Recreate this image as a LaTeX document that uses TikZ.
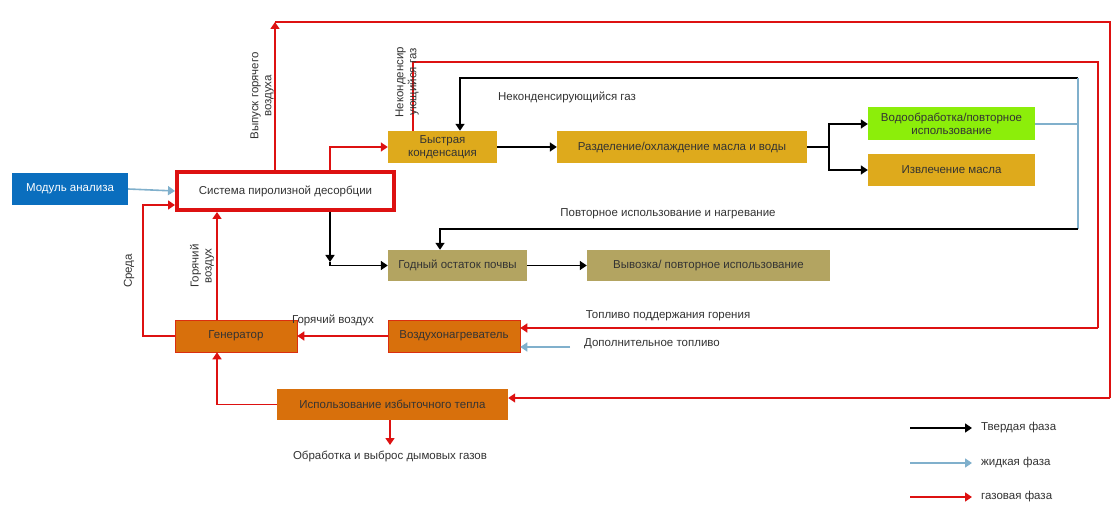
\documentclass[tikz,border=0pt]{standalone}
\usepackage{fontspec}
\setmainfont{Liberation Sans}
\usetikzlibrary{arrows.meta}
\definecolor{rd}{HTML}{DD1111}
\definecolor{lb}{HTML}{80B0CC}
\definecolor{gold}{HTML}{DEAA1C}
\definecolor{khaki}{HTML}{B3A461}
\definecolor{org}{HTML}{D8700C}
\definecolor{lime}{HTML}{8CEE0A}
\definecolor{bl}{HTML}{0A6EBE}
\definecolor{tx}{HTML}{333333}
\begin{document}
\begin{tikzpicture}[x=1pt,y=-1pt,
  every node/.style={font=\fontsize{11.5}{13}\selectfont,text=tx},
  box/.style={draw=none,minimum height=32pt,inner sep=1pt,align=center},
  r/.style={draw=rd,line width=1.6pt,-{Triangle[length=7pt,width=9pt]}},
  rn/.style={draw=rd,line width=1.6pt},
  k/.style={draw=black,line width=1.6pt,-{Triangle[length=7pt,width=9pt]}},
  kn/.style={draw=black,line width=1.6pt},
  b/.style={draw=lb,line width=1.6pt,-{Triangle[length=7pt,width=9pt]}},
  bn/.style={draw=lb,line width=1.6pt},
  lbl/.style={inner sep=1pt},
  rot/.style={inner sep=1pt,rotate=90,align=center}]
\useasboundingbox (0,0) rectangle (1113,510);
\fill[white] (0,0) rectangle (1113,510);
% boxes
\node[box,fill=bl,minimum width=116pt,text=white] (mod) at (70,189) {Модуль анализа};
\node[box,draw=rd,line width=4pt,minimum width=217pt,minimum height=38pt] (sys) at (285.5,191) {Система пиролизной десорбции};
\node[box,fill=gold,minimum width=109pt] (bys) at (442.5,147) {Быстрая\\конденсация};
\node[box,fill=gold,minimum width=250pt] (raz) at (682,147) {Разделение/охлаждение масла и воды};
\node[box,fill=lime,minimum width=167pt,minimum height=33pt] (vod) at (951.5,124) {Водообработка/повторное\\использование};
\node[box,fill=gold,minimum width=167pt] (izv) at (951.5,170) {Извлечение масла};
\node[box,fill=khaki,minimum width=139pt,minimum height=31pt] (god) at (457.5,265.5) {Годный остаток почвы};
\node[box,fill=khaki,minimum width=243pt,minimum height=31pt] (vyv) at (708.5,265.5) {Вывозка/ повторное использование};
\node[box,fill=org,draw=rd!70!org,line width=0.6pt,minimum width=122pt] (gen) at (236,336) {Генератор};
\node[box,fill=org,draw=rd!70!org,line width=0.6pt,minimum width=132pt] (vozd) at (454,336) {Воздухонагреватель};
\node[box,fill=org,minimum width=231pt,minimum height=31pt] (isp) at (392.5,404.5) {Использование избыточного тепла};
% coordinates
\coordinate (topL) at (275,22);
\coordinate (topR) at (1110,22);
\coordinate (botR) at (1110,398);
\coordinate (r2a) at (413,62);
\coordinate (r2b) at (1098,62);
\coordinate (r2c) at (1098,328);
\coordinate (k1a) at (1078,78);
\coordinate (k1b) at (460,78);
\coordinate (k2a) at (1078,229);
\coordinate (k2b) at (440,229);
\coordinate (split) at (829,147);
\coordinate (jn) at (330,262);
\coordinate (fuel) at (570,347);
\coordinate (smoke) at (390,445);
% connectors
\draw[b] (mod.east) -- (sys.west);
\draw[r] (gen.west) -| (143,205) -- (sys.west |- 0,205);
\draw[r] (gen.north -| 217,0) -- (sys.south -| 217,0);
\draw[r] (sys.north -| topL) -- (topL);
\draw[rn] (topL) -- (topR) -- (botR);
\draw[r] (botR) -- (isp.east |- botR);
\draw[r] (sys.north -| 330,0) |- (bys.west);
\draw[rn] (bys.north -| r2a) -- (r2a) -- (r2b) -- (r2c);
\draw[r] (r2c) -- (vozd.east |- r2c);
\draw[k] (k1a) -- (k1b) -- (bys.north -| k1b);
\draw[bn] (vod.east) -- (vod.east -| k1a);
\draw[bn] (k1a) -- (k2a);
\draw[k] (k2a) -- (k2b) -- (god.north -| k2b);
\draw[k] (bys.east) -- (raz.west);
\draw[kn] (raz.east) -- (split);
\draw[k] (split) |- (vod.west);
\draw[k] (split) |- (izv.west);
\draw[k] (sys.south -| jn) -- (jn);
\draw[k] (jn) |- (god.west);
\draw[k] (god.east) -- (vyv.west);
\draw[r] (vozd.west) -- (gen.east);
\draw[b] (fuel) -- (vozd.east |- fuel);
\draw[r] (isp.west) -| (gen.south -| 217,0);
\draw[r] (isp.south -| smoke) -- (smoke);
% labels
\node[rot] (l1) at (262,96) {Выпуск горячего\\воздуха};
\node[rot] (l2) at (407,82) {Неконденсир\\ующийся газ};
\node[lbl] (l3) at (567,97) {Неконденсирующийся газ};
\node[lbl] (l4) at (668,214) {Повторное использование и нагревание};
\node[rot] (l5) at (129,271) {Среда};
\node[rot] (l6) at (202,266) {Горячий\\воздух};
\node[lbl] (l7) at (333,320) {Горячий воздух};
\node[lbl] (l8) at (668,316) {Топливо поддержания горения};
\node[lbl] (l9) at (652,344) {Дополнительное топливо};
\node[lbl] (l10) at (390,456) {Обработка и выброс дымовых газов};
% legend
\coordinate (a1) at (910,428); \coordinate (a2) at (972,428);
\coordinate (b1) at (910,463); \coordinate (b2) at (972,463);
\coordinate (c1) at (910,497); \coordinate (c2) at (972,497);
\draw[k] (a1) -- (a2);
\draw[b] (b1) -- (b2);
\draw[r] (c1) -- (c2);
\node[lbl,anchor=west] (t1) at (980,428) {Твердая фаза};
\node[lbl,anchor=west] (t2) at (980,463) {жидкая фаза};
\node[lbl,anchor=west] (t3) at (980,497) {газовая фаза};
\end{tikzpicture}
\end{document}
